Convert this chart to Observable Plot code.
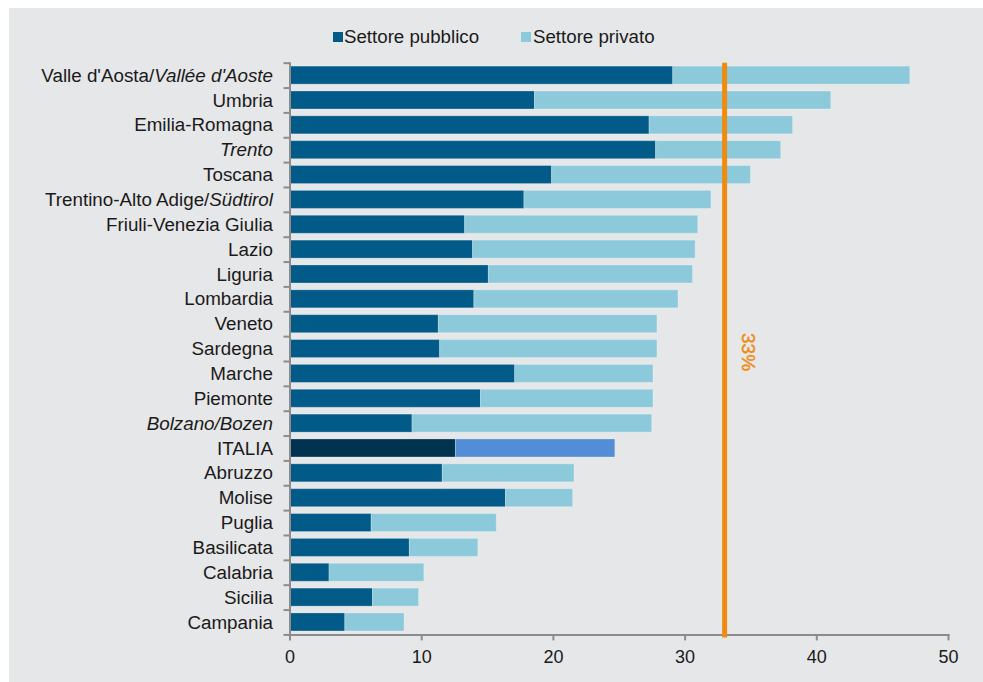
<!DOCTYPE html>
<html>
<head>
<meta charset="utf-8">
<script src="https://cdn.jsdelivr.net/npm/d3@7"></script>
<script src="https://cdn.jsdelivr.net/npm/@observablehq/plot@0.6"></script>
<style>
  body { margin: 0; background: #ffffff; }
  #wrap { position: absolute; left: 9px; top: 8px; width: 974px; height: 674px; background: #e6e7e9;
          font-family: "Liberation Sans", Arial, sans-serif; color: #1a1a1a; overflow: hidden; }
  #legend { position: relative; height: 42px; }
  .sw { position: absolute; top: 24px; width: 10px; height: 10px; }
  .lt { position: absolute; top: 19px; line-height: 20px; font-size: 18.7px; white-space: nowrap; }
  #chart svg { display: block; }
</style>
</head>
<body>
<div id="wrap">
  <div id="legend">
    <div class="sw" style="left:324px;background:#015a88"></div><div class="lt" style="left:335px">Settore pubblico</div>
    <div class="sw" style="left:512px;background:#8ccadb"></div><div class="lt" style="left:524px">Settore privato</div>
  </div>
  <div id="chart"></div>
</div>
<script>
const regions = [
  "Valle d'Aosta/Vallée d'Aoste", "Umbria", "Emilia-Romagna", "Trento", "Toscana",
  "Trentino-Alto Adige/Südtirol", "Friuli-Venezia Giulia", "Lazio", "Liguria", "Lombardia",
  "Veneto", "Sardegna", "Marche", "Piemonte", "Bolzano/Bozen", "ITALIA", "Abruzzo",
  "Molise", "Puglia", "Basilicata", "Calabria", "Sicilia", "Campania"
];
const publicVals  = [29.1, 18.6, 27.3, 27.8, 19.9, 17.8, 13.3, 13.9, 15.1, 14.0, 11.3, 11.4, 17.1, 14.5, 9.3, 12.6, 11.6, 16.4, 6.2, 9.1, 3.0, 6.3, 4.2];
const privateVals = [18.0, 22.5, 10.9, 9.5, 15.1, 14.2, 17.7, 16.9, 15.5, 15.5, 16.6, 16.5, 10.5, 13.1, 18.2, 12.1, 10.0, 5.1, 9.5, 5.2, 7.2, 3.5, 4.5];
const sectors = ["Settore pubblico", "Settore privato"];
const xTicks = [0, 10, 20, 30, 40, 50];
const threshold = 33;
const thresholdLabel = "33%";

const italicParts = {
  "Valle d'Aosta/Vallée d'Aoste": [["Valle d'Aosta/", false], ["Vallée d'Aoste", true]],
  "Trento": [["Trento", true]],
  "Trentino-Alto Adige/Südtirol": [["Trentino-Alto Adige/", false], ["Südtirol", true]],
  "Bolzano/Bozen": [["Bolzano/Bozen", true]]
};

const colors = {
  normal: {"Settore pubblico": "#015a88", "Settore privato": "#8ccadb"},
  total:  {"Settore pubblico": "#00334f", "Settore privato": "#538dd5"}
};

const rows = regions.flatMap((r, i) => [
  {region: r, sector: sectors[0], value: publicVals[i]},
  {region: r, sector: sectors[1], value: privateVals[i]}
]);

const W = 974, H = 624;
const mT = 12.7, mB = 39.6, mL = 280.5, mR = 35;
const pad = 0.276;
const xMax = 50;
// band step chosen so that the outer band edges meet the frame lines
const step = (H - mT - mB) / regions.length;
const yRange = [mT - pad * step / 2, H - mB + pad * step / 2];
const tickLenUnits = 6 / ((W - mL - mR) / xMax);

const boundaries = regions.map(r => ({region: r, s: -1}))
  .concat([{region: regions[regions.length - 1], s: 1}]);

const chart = Plot.plot({
  width: W, height: H,
  marginTop: mT, marginBottom: mB, marginLeft: mL, marginRight: mR,
  style: {background: "transparent", fontFamily: "'Liberation Sans', Arial, sans-serif", fontSize: "18px", color: "#1a1a1a"},
  x: {domain: [0, xMax]},
  y: {domain: regions, padding: pad, range: yRange, round: false},
  color: {type: "identity"},
  marks: [
    Plot.barX(rows, {
      x: "value", y: "region",
      fill: d => (d.region === "ITALIA" ? colors.total : colors.normal)[d.sector],
      stroke: "#ffffff", strokeOpacity: 0.25, strokeWidth: 1
    }),
    Plot.frame({anchor: "left", stroke: "#8c8c8c", strokeWidth: 2}),
    Plot.frame({anchor: "bottom", stroke: "#8c8c8c", strokeWidth: 2}),
    ...[-1, 1].map(s => Plot.ruleY(boundaries.filter(b => b.s === s), {
      y: "region", x1: () => -tickLenUnits, x2: () => 0, dy: s * step / 2,
      stroke: "#8c8c8c", strokeWidth: 2
    })),
    Plot.axisX({ticks: xTicks, tickSize: 6, tickPadding: 9, fontSize: 18, stroke: "#8c8c8c", strokeWidth: 2, fill: "#1a1a1a", tickFormat: d => String(d), label: null}),
    Plot.axisY({tickSize: 0, tickPadding: 17, fontSize: 18.8, fill: "#1a1a1a", label: null}),
    Plot.ruleX([threshold], {x: d => d, stroke: "#ee8c12", strokeWidth: 5, insetBottom: -3}),
    Plot.text([thresholdLabel], {x: () => threshold, y: () => regions[11], text: d => d, dx: 23, dy: 3, rotate: 90, fill: "#ee8c12", fontSize: 19, stroke: "#ee8c12", strokeWidth: 0.4})
  ]
});
document.getElementById("chart").appendChild(chart);

// Mixed roman / italic labels
chart.querySelectorAll("text").forEach(t => {
  const parts = italicParts[t.textContent];
  if (!parts) return;
  t.textContent = "";
  parts.forEach(([s, it]) => {
    const ts = document.createElementNS("http://www.w3.org/2000/svg", "tspan");
    ts.textContent = s;
    if (it) ts.setAttribute("font-style", "italic");
    t.appendChild(ts);
  });
});
</script>
</body>
</html>
